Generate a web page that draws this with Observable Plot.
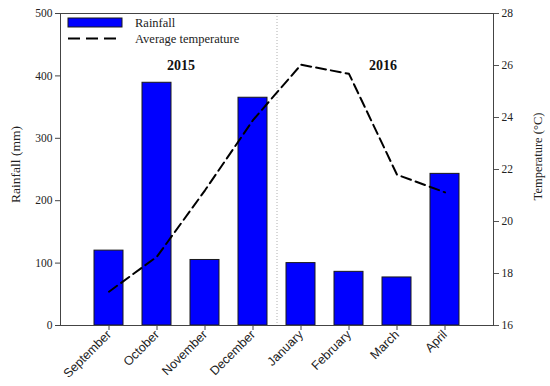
<!DOCTYPE html>
<html><head><meta charset="utf-8">
<script src="https://cdn.jsdelivr.net/npm/d3@7"></script>
<script src="https://cdn.jsdelivr.net/npm/@observablehq/plot@0.6"></script>
<style>
body{margin:0;background:#fff;}
#wrap{position:relative;width:550px;height:386px;}
#wrap > svg{position:absolute;left:0;top:0;}
</style></head><body><div id="wrap"></div>
<script>
const months = ["September","October","November","December","January","February","March","April"];
const rainfall = [120, 389, 105, 365, 100, 86, 77, 243];
const temperature = [17.3, 18.65, 21.2, 23.9, 26.03, 25.68, 21.8, 21.12];
const rainTicks = [0, 100, 200, 300, 400, 500];
const tempTicks = [16, 18, 20, 22, 24, 26, 28];
const years = ["2015", "2016"];
const seriesNames = ["Rainfall", "Average temperature"];
const yLabels = ["Rainfall (mm)", "Temperature (°C)"];

const data = months.map((m, i) => ({month: m, rain: rainfall[i], temp: temperature[i]}));
const W = 550, H = 386;
const margins = {marginLeft: 60, marginRight: 57, marginTop: 13, marginBottom: 61};
const xScale = {type: "band", domain: months, paddingInner: 0.4, paddingOuter: 0.7, align: 0.5};
const serif = "'Liberation Serif', 'Times New Roman', serif";

const p1 = Plot.plot({
  width: W, height: H, ...margins,
  style: {fontFamily: serif, fontSize: "12px", background: "transparent", color: "#222"},
  x: {...xScale, axis: null},
  y: {domain: [0, 500], axis: null},
  marks: [
    Plot.ruleX(["January"], {dx: -24, stroke: "#b0b0b0", strokeDasharray: "1,2"}),
    Plot.barY(data, {x: "month", y: "rain", fill: "#0000ff", stroke: "#1a1a1a", strokeWidth: 1}),
    Plot.axisY({ticks: rainTicks, tickSize: 5, tickPadding: 3, label: null, fontSize: 11.5, stroke: "#444"}),
    Plot.axisX({tickSize: 5, tickPadding: 2, tickRotate: -45, fontFamily: "'Liberation Sans', Arial, sans-serif", fontSize: 12.5, label: null, stroke: "#444"}),
    Plot.frame({stroke: "#444"}),
    Plot.text([years[0]], {x: () => "October", y: () => 416, dx: 24, fontWeight: "bold", fontSize: 14, fill: "#111"}),
    Plot.text([years[1]], {x: () => "February", y: () => 416, dx: 34, fontWeight: "bold", fontSize: 14, fill: "#111"}),
    Plot.text([yLabels[0]], {frameAnchor: "left", textAnchor: "middle", rotate: -90, dx: -45, dy: -5, fontSize: 13.5, fill: "#222"})
  ]
});

const p2 = Plot.plot({
  width: W, height: H, ...margins,
  style: {fontFamily: serif, fontSize: "12px", background: "transparent", color: "#222"},
  x: {...xScale, axis: null},
  y: {domain: [16, 28], axis: null},
  marks: [
    Plot.lineY(data, {x: "month", y: "temp", stroke: "#000", strokeWidth: 2, strokeDasharray: "10,5"}),
    Plot.axisY({anchor: "right", ticks: tempTicks, tickSize: 5, tickPadding: 3, label: null, fontSize: 11.5, stroke: "#555"}),
    Plot.text([yLabels[1]], {frameAnchor: "right", textAnchor: "middle", rotate: -90, dx: 44, dy: -13, fontSize: 12.5, fill: "#222"})
  ]
});

const wrap = document.getElementById("wrap");
wrap.appendChild(p1);
wrap.appendChild(p2);

// legend overlay
const ns = "http://www.w3.org/2000/svg";
const leg = document.createElementNS(ns, "svg");
leg.setAttribute("width", W); leg.setAttribute("height", H);
leg.style.position = "absolute"; leg.style.left = "0"; leg.style.top = "0";
leg.innerHTML = `
<rect x="68" y="18" width="54" height="9" fill="#0000ff" stroke="#1a1a1a" stroke-width="1"/>
<line x1="68" x2="117" y1="38.5" y2="38.5" stroke="#000" stroke-width="2" stroke-dasharray="12,6"/>
<text x="135" y="27" font-family="${serif}" font-size="12.5" fill="#222">${seriesNames[0]}</text>
<text x="135" y="43" font-family="${serif}" font-size="12.5" fill="#222">${seriesNames[1]}</text>`;
wrap.appendChild(leg);
</script>
</body></html>
